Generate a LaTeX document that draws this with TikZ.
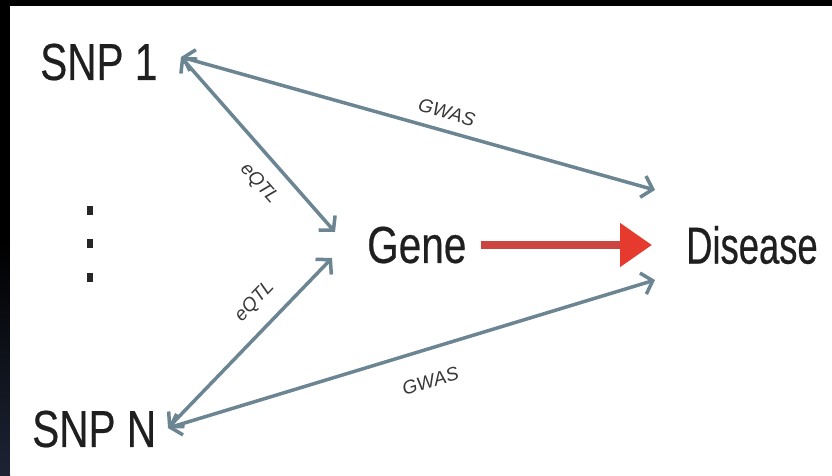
\documentclass[tikz,border=0pt]{standalone}
\usepackage{fontspec}
\setmainfont{Liberation Sans}
\newfontfamily\condfont[FakeStretch=0.78,FakeBold=0.4]{Liberation Sans}
\newfontfamily\condnarrow[FakeStretch=0.70,FakeBold=0.4]{Liberation Sans}
\usetikzlibrary{arrows.meta,calc}
\definecolor{conncol}{HTML}{6C8593}
\definecolor{redline}{HTML}{CC4540}
\definecolor{redhead}{HTML}{E63A2E}
\definecolor{navyedge}{HTML}{1C2334}
\begin{document}
\begin{tikzpicture}[x=1pt,y=-1pt,
  bigtext/.style={inner sep=0pt,anchor=west,font=\condfont\fontsize{52}{60}\selectfont,text=black!88},
  conn/.style={draw=conncol,line width=3.5pt,
    {Straight Barb[length=10pt,width=22pt,line width=3.5pt]}-{Straight Barb[length=10pt,width=22pt,line width=3.5pt]}},
  redarrow/.style={draw=redline,line width=8pt,-{Triangle[length=32pt,width=42pt,fill=redhead,color=redhead]}},
  edgelbl/.style={font=\itshape\fontsize{19}{22}\selectfont,text=black!78,sloped,inner sep=1pt}]
\fill[black] (0,0) rectangle (832,475);
\shade[top color=black,bottom color=navyedge] (0,240) rectangle (10,475);
\fill[white] (10,6) rectangle (832,475);
\useasboundingbox (0,0) rectangle (832,475);

\node[bigtext] (snp1) at (40,62) {SNP 1};
\node[bigtext] (snpn) at (32,429) {SNP N};
\node[bigtext] (gene) at (367,245) {Gene};
\node[bigtext,font=\condnarrow\fontsize{52}{60}\selectfont] (disease) at (686,245) {Disease};

\foreach \yy in {210,243,277}
  \fill[black!85] (87,\yy-4.5) rectangle (93,\yy+4.5);

\draw[conn] ($(snp1.west)+(141,-5)$) -- ($(disease.west)+(-31,-55)$)
  node[edgelbl,pos=0.55,above=9pt] {GWAS};
\draw[conn] ($(snp1.west)+(141,-5)$) -- ($(gene.west)+(-32,-13)$)
  node[edgelbl,pos=0.63,below=14pt] {eQTL};
\draw[conn] ($(snpn.west)+(136,-1)$) -- ($(gene.west)+(-35,13)$)
  node[edgelbl,pos=0.64,above=14pt] {eQTL};
\draw[conn] ($(snpn.west)+(136,-1)$) -- ($(disease.west)+(-31,35)$)
  node[edgelbl,pos=0.52,below=22pt] {GWAS};

\draw[redarrow] ($(gene.east)+(14,0)$) -- ($(disease.west)+(-34,0)$);
\end{tikzpicture}
\end{document}
